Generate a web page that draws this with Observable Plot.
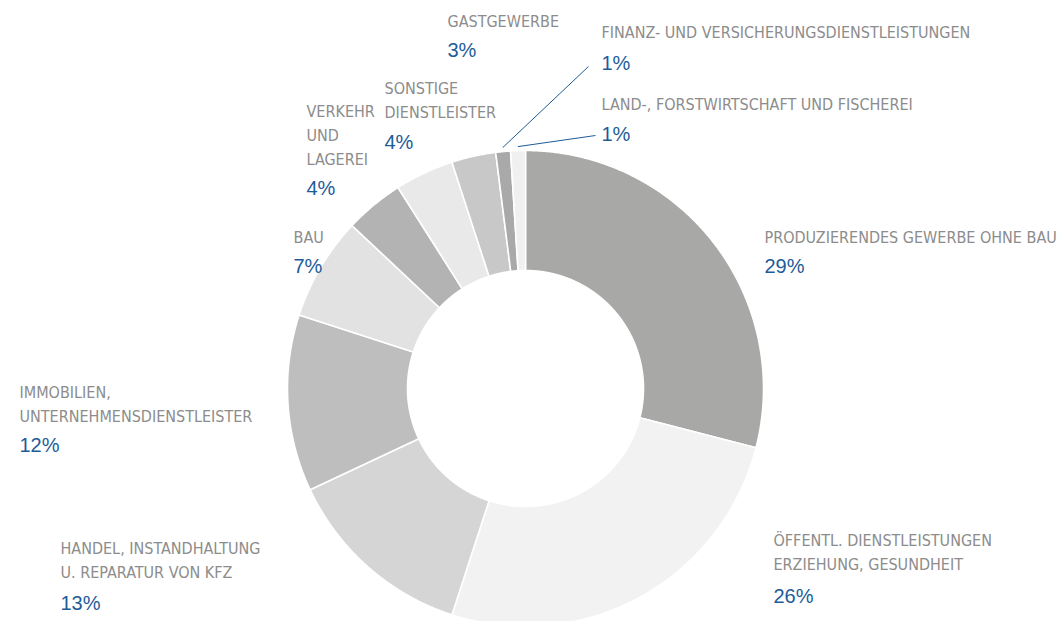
<!DOCTYPE html>
<html><head><meta charset="utf-8">
<script src="https://cdn.jsdelivr.net/npm/d3@7"></script>
<script src="https://cdn.jsdelivr.net/npm/@observablehq/plot@0.6"></script>
<style>html,body{margin:0;padding:0;background:#fff;overflow:hidden} svg{display:block}</style>
</head><body><div id="chart"></div>
<script>
// ---- data ----
const categories = ["Produzierendes Gewerbe ohne Bau","Öffentl. Dienstleistungen","Handel","Immobilien","Bau","Verkehr","Sonstige","Gastgewerbe","Finanz","Land"];
const labelTexts = [
  "PRODUZIERENDES GEWERBE OHNE BAU",
  "ÖFFENTL. DIENSTLEISTUNGEN\nERZIEHUNG, GESUNDHEIT",
  "HANDEL, INSTANDHALTUNG\nU. REPARATUR VON KFZ",
  "IMMOBILIEN,\nUNTERNEHMENSDIENSTLEISTER",
  "BAU",
  "VERKEHR\nUND\nLAGEREI",
  "SONSTIGE\nDIENSTLEISTER",
  "GASTGEWERBE",
  "FINANZ- UND VERSICHERUNGSDIENSTLEISTUNGEN",
  "LAND-, FORSTWIRTSCHAFT UND FISCHEREI"
];
const shares = [29, 26, 13, 12, 7, 4, 4, 3, 1, 1];
const percentLabels = ["29%","26%","13%","12%","7%","4%","4%","3%","1%","1%"];
const sliceColors = ["#a8a8a7","#f2f2f2","#d5d5d5","#bebebe","#e2e2e2","#b3b3b3","#e9e9e9","#c8c8c8","#a9a9a9","#f0f0f0"];

// ---- layout (pixels) ----
const W = 1063, H = 621;
const cx = 525, cy = 388, R = 238, r0 = 118;
const labelX   = [764, 773, 60, 19, 293, 306, 384, 447, 601, 601];
const labelTop = [231, 534, 542, 386.5, 231, 105, 82, 15, 26, 98];
const pctY     = [266.5, 596, 603, 445.5, 266.5, 188, 142, 50.5, 63, 134];
const leaderEnd = {8: [588, 66], 9: [595, 135]};
const labelFont = 16, labelLH = 1.5;
const topShift = 0.71 * (labelLH - 1) * labelFont;

// ---- geometry from data via d3.pie ----
const pie = d3.pie().sort(null).value(d => d).startAngle(0).endAngle(2 * Math.PI)(shares);
const pt = (a, rad) => [cx + rad * Math.sin(a), cy - rad * Math.cos(a)];
const polys = [];
pie.forEach((s, i) => {
  const n = Math.max(2, Math.ceil((s.endAngle - s.startAngle) / 0.005));
  const pts = [];
  for (let k = 0; k <= n; k++) pts.push(pt(s.startAngle + (s.endAngle - s.startAngle) * k / n, R));
  for (let k = n; k >= 0; k--) pts.push(pt(s.startAngle + (s.endAngle - s.startAngle) * k / n, r0));
  pts.push(pts[0]);
  pts.forEach(([x, y]) => polys.push({cat: categories[i], x, y}));
});

const labels = categories.map((c, i) => ({cat: c, text: labelTexts[i], pct: percentLabels[i], x: labelX[i], top: labelTop[i] - topShift, py: pctY[i]}));
const leaders = Object.entries(leaderEnd).map(([i, [ex, ey]]) => {
  const s = pie[+i];
  const [sx, sy] = pt((s.startAngle + s.endAngle) / 2, R + 4);
  return {x1: sx, y1: sy, x2: ex, y2: ey};
});

const narrow = "'Liberation Sans Narrow','Arial Narrow','DejaVu Sans Condensed',sans-serif";
const chart = Plot.plot({
  width: W, height: H,
  margin: 0,
  x: {domain: [0, W], range: [0, W], axis: null},
  y: {domain: [0, H], range: [0, H], axis: null},
  color: {domain: categories, range: sliceColors},
  marks: [
    Plot.line(polys, {x: "x", y: "y", z: "cat", fill: "cat", stroke: "white", strokeWidth: 1.6, curve: "linear"}),
    Plot.link(leaders, {x1: "x1", y1: "y1", x2: "x2", y2: "y2", stroke: "#1d5c99", strokeWidth: 1}),
    Plot.text(labels, {x: "x", y: "top", text: "text", textAnchor: "start", lineAnchor: "top", lineHeight: labelLH, fontSize: labelFont, fontFamily: narrow, fill: "#8c8c8c"}),
    Plot.text(labels, {x: "x", y: "py", text: "pct", textAnchor: "start", lineAnchor: "middle", fontSize: 20, fontFamily: "'Liberation Sans',Arial,sans-serif", fill: "#1d5c99"})
  ]
});
document.getElementById("chart").append(chart);
</script>
</body></html>
